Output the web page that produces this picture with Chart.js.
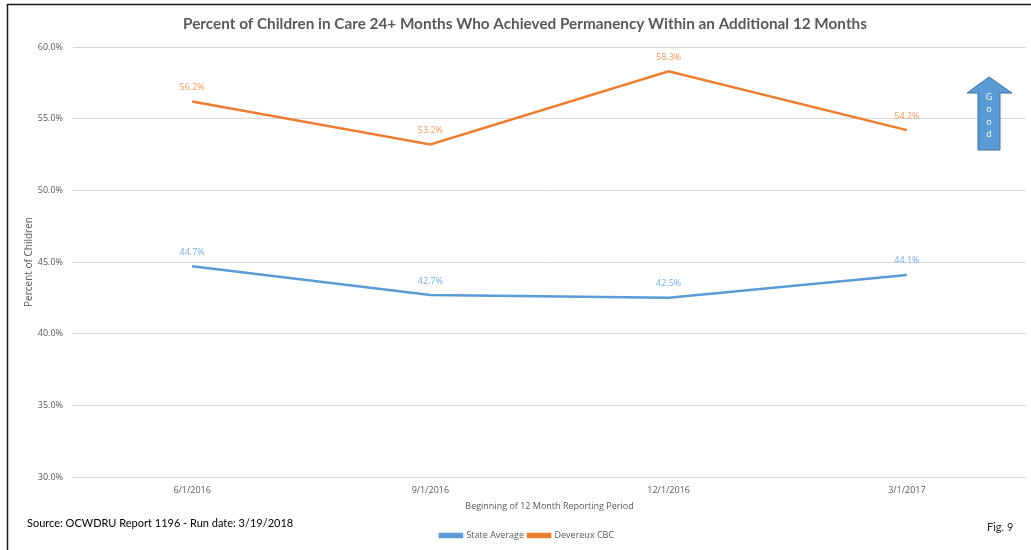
<!DOCTYPE html>
<html>
<head>
<meta charset="utf-8">
<script src="https://cdn.jsdelivr.net/npm/chart.js@4.4.0/dist/chart.umd.min.js"></script>
<style>
  html, body { margin: 0; padding: 0; background: #ffffff; }
  #wrap { position: relative; width: 1031px; height: 550px; }
</style>
</head>
<body>
<div id="wrap"><canvas id="grafico" width="1031" height="550"></canvas></div>
<script>
// Reporting periods and series
const periodos = ['6/1/2016', '9/1/2016', '12/1/2016', '3/1/2017'];
const promedioEstatal = [44.7, 42.7, 42.5, 44.1];
const devereuxCBC = [56.2, 53.2, 58.3, 54.2];
const ticksY = [30, 35, 40, 45, 50, 55, 60];

const TITULO = 'Percent of Children in Care 24+ Months Who Achieved Permanency Within an Additional 12 Months';
const AZUL = '#5B9BD5';
const NARANJA = '#ED7D31';
const GRIS = '#595959';
const FUENTE = "'Open Sans', 'DejaVu Sans', sans-serif";
const FUENTE_TITULO = "Lato, 'Open Sans', sans-serif";

// Value labels above each point
const etiquetasValor = {
    id: 'etiquetasValor',
    afterDatasetsDraw(chart) {
        const ctx = chart.ctx;
        const coloresEtiqueta = ['#79AEDF', '#F2975C'];
        ctx.save();
        ctx.font = '9px ' + FUENTE;
        ctx.textAlign = 'center';
        ctx.textBaseline = 'middle';
        chart.data.datasets.forEach((ds, i) => {
            const meta = chart.getDatasetMeta(i);
            ctx.fillStyle = coloresEtiqueta[i];
            meta.data.forEach((pt, j) => {
                ctx.fillText(ds.data[j].toFixed(1) + '%', pt.x, pt.y - 14);
            });
        });
        ctx.restore();
    }
};

// Nudge the legend a little to the right of the canvas centre
const legendaDesplazada = {
    id: 'legendaDesplazada',
    afterLayout(chart) {
        if (chart.legend) {
            chart.legend.left += 14;
            chart.legend.right += 14;
        }
    }
};

// Frame, title, "Good" arrow, source note and figure number
const adornos = {
    id: 'adornos',
    afterDraw(chart) {
        const ctx = chart.ctx;
        ctx.save();

        // frame lines (left and top)
        ctx.strokeStyle = '#1a1a1a';
        ctx.lineWidth = 1.5;
        ctx.beginPath();
        ctx.moveTo(7.5, 550);
        ctx.lineTo(7.5, 4.5);
        ctx.lineTo(1031, 4.5);
        ctx.stroke();

        // title
        ctx.fillStyle = GRIS;
        ctx.font = 'bold 15.3px ' + FUENTE_TITULO;
        ctx.textAlign = 'center';
        ctx.textBaseline = 'middle';
        ctx.fillText(TITULO, 525, 24);

        // up arrow
        ctx.fillStyle = AZUL;
        ctx.strokeStyle = '#41719C';
        ctx.lineWidth = 1;
        ctx.beginPath();
        ctx.moveTo(989, 77);
        ctx.lineTo(1012, 93);
        ctx.lineTo(1000, 93);
        ctx.lineTo(1000, 150);
        ctx.lineTo(978, 150);
        ctx.lineTo(978, 93);
        ctx.lineTo(967, 93);
        ctx.closePath();
        ctx.fill();
        ctx.stroke();

        ctx.fillStyle = '#ffffff';
        ctx.font = '9px ' + FUENTE;
        ['G', 'o', 'o', 'd'].forEach((c, k) => {
            ctx.fillText(c, 989, 97 + k * 12.5);
        });

        // footer text
        ctx.fillStyle = '#000000';
        ctx.font = '11px ' + FUENTE_TITULO;
        ctx.textAlign = 'left';
        ctx.fillText('Source: OCWDRU Report 1196 - Run date: 3/19/2018', 27, 523);
        ctx.fillStyle = '#262626';
        ctx.fillText('Fig. 9', 987, 527);

        ctx.restore();
    }
};

const ctx = document.getElementById('grafico').getContext('2d');
new Chart(ctx, {
    type: 'line',
    data: {
        labels: periodos,
        datasets: [
            {
                label: 'State Average',
                data: promedioEstatal,
                borderColor: AZUL,
                backgroundColor: AZUL,
                borderWidth: 2.5,
                pointRadius: 0,
                tension: 0
            },
            {
                label: 'Devereux CBC',
                data: devereuxCBC,
                borderColor: NARANJA,
                backgroundColor: NARANJA,
                borderWidth: 2.5,
                pointRadius: 0,
                tension: 0
            }
        ]
    },
    options: {
        responsive: false,
        animation: false,
        layout: { padding: { left: 0, right: 5, top: 47, bottom: 0 } },
        plugins: {
            title: { display: false },
            legend: {
                display: true,
                position: 'bottom',
                labels: {
                    color: GRIS,
                    font: { family: FUENTE, size: 9 },
                    boxWidth: 22,
                    boxHeight: 3,
                    padding: 4
                }
            },
            tooltip: { enabled: false }
        },
        scales: {
            x: {
                offset: true,
                grid: { display: false, drawTicks: false },
                border: { display: false },
                ticks: {
                    color: GRIS,
                    font: { family: FUENTE, size: 9 },
                    padding: 8
                },
                title: {
                    display: true,
                    text: 'Beginning of 12 Month Reporting Period',
                    color: GRIS,
                    font: { family: FUENTE, size: 9 },
                    padding: { top: 4, bottom: 15 }
                },
                afterFit(scale) { scale.height = 50; }
            },
            y: {
                min: 30,
                max: 60,
                afterBuildTicks(scale) {
                    scale.ticks = ticksY.map(v => ({ value: v }));
                },
                grid: { color: '#D9D9D9', lineWidth: 1, drawTicks: false },
                border: { display: false },
                ticks: {
                    color: GRIS,
                    font: { family: FUENTE, size: 9 },
                    padding: 10,
                    callback: v => v.toFixed(1) + '%'
                },
                title: {
                    display: true,
                    text: 'Percent of Children',
                    color: GRIS,
                    font: { family: FUENTE, size: 10 },
                    padding: { top: 23, bottom: 0 }
                },
                afterFit(scale) { scale.width = 73; }
            }
        }
    },
    plugins: [etiquetasValor, legendaDesplazada, adornos]
});
</script>
</body>
</html>
